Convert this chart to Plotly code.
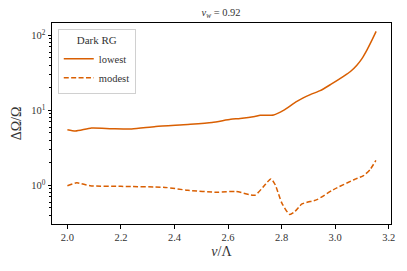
import plotly.graph_objects as go

v_lowest = [2.0, 2.03, 2.09, 2.166, 2.24, 2.33, 2.45, 2.54, 2.61, 2.645, 2.70, 2.72, 2.77, 2.807,
            2.857, 2.907, 2.944, 2.982, 3.031, 3.056, 3.081, 3.10, 3.119, 3.135, 3.153]
lowest = [5.53, 5.31, 5.82, 5.7, 5.65, 6.1, 6.5, 6.9, 7.6, 7.8, 8.3, 8.6, 8.7, 10.0,
          13.2, 16.2, 18.3, 22.0, 28.4, 32.7, 40.0, 49.0, 64.0, 83.0, 113.0]

v_modest = [2.0, 2.035, 2.085, 2.2, 2.365, 2.45, 2.56, 2.63, 2.70, 2.733, 2.76, 2.776, 2.801,
            2.83, 2.85, 2.876, 2.932, 2.994, 3.07, 3.106, 3.13, 3.152]
modest = [0.99, 1.08, 0.99, 0.97, 0.94, 0.86, 0.81, 0.83, 0.74, 0.97, 1.22, 1.02, 0.58,
          0.41, 0.45, 0.565, 0.645, 0.88, 1.19, 1.35, 1.62, 2.15]

x_ticks = [2.0, 2.2, 2.4, 2.6, 2.8, 3.0, 3.2]
y_ticks = [1, 10, 100]
y_ticktext = ["10<sup>0</sup>", "10<sup>1</sup>", "10<sup>2</sup>"]
y_minor = [0.4, 0.5, 0.6, 0.7, 0.8, 0.9, 2, 3, 4, 5, 6, 7, 8, 9,
           20, 30, 40, 50, 60, 70, 80, 90, 200]

color = "#d95f02"
font = "Liberation Serif, DejaVu Serif, serif"

fig = go.Figure()
fig.add_trace(go.Scatter(x=v_lowest, y=lowest, mode="lines", name="lowest",
                         line=dict(color=color, width=1.5, shape="spline", smoothing=0.6)))
fig.add_trace(go.Scatter(x=v_modest, y=modest, mode="lines", name="modest",
                         line=dict(color=color, width=1.5, dash="5px,2.4px",
                                   shape="spline", smoothing=0.6)))

# page body has an 8px default margin, so the figure is sized to fit in the rest
fig.update_layout(
    width=399, height=263,
    margin=dict(l=43.5, r=16.3, t=15.3, b=46.7),
    plot_bgcolor="white", paper_bgcolor="white",
    font=dict(family=font, size=11, color="#333"),
    title=dict(text="<i>v</i><sub><i>w</i></sub> = 0.92", x=0.534, xanchor="center",
               y=0.985, yanchor="middle", font=dict(size=10.5, family=font, color="#333")),
    showlegend=True,
    legend=dict(x=0.017, y=0.97, xanchor="left", yanchor="top",
                bordercolor="#d0d0d0", borderwidth=1, bgcolor="rgba(255,255,255,0.8)",
                title=dict(text="Dark RG", side="top center", font=dict(size=11, family=font)),
                font=dict(size=10.5, family=font), itemwidth=30, tracegroupgap=0),
)
fig.update_xaxes(range=[1.9425, 3.2085], tickvals=x_ticks, ticktext=[f"{t:.1f}" for t in x_ticks],
                 showgrid=False, zeroline=False, showline=True, linecolor="black", linewidth=1,
                 mirror=True, ticks="outside", ticklen=3.5, tickcolor="black", automargin=False,
                 title=dict(text="<i>v</i>/Λ", font=dict(size=14, family=font), standoff=4),
                 tickfont=dict(size=10.5, family=font))
fig.update_yaxes(type="log", range=[-0.515, 2.165], tickvals=y_ticks, ticktext=y_ticktext,
                 showgrid=False, zeroline=False, showline=True, linecolor="black", linewidth=1,
                 mirror=True, ticks="outside", ticklen=3.5, tickcolor="black", automargin=False,
                 minor=dict(ticks="outside", ticklen=2.5, tickcolor="black", tickwidth=1,
                            tickmode="array", tickvals=y_minor, showgrid=False),
                 title=dict(text="ΔΩ/Ω", font=dict(size=14, family=font), standoff=6),
                 tickfont=dict(size=10.5, family=font))

fig.write_html("out.html")
